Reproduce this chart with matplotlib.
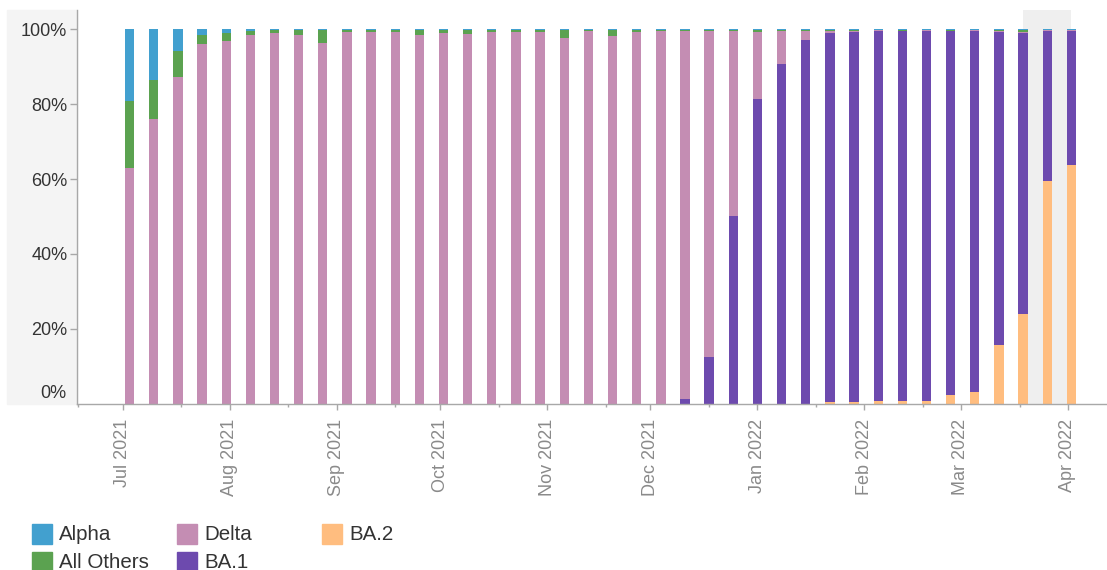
import matplotlib
matplotlib.use('Agg')
import pandas as pd
import matplotlib.pyplot as plt
import matplotlib.dates as mdates
from matplotlib.patches import Rectangle

plt.rcParams['font.family'] = ['Liberation Sans', 'DejaVu Sans']

W, H = 1107, 570

# week ending dates (Saturdays), one bar per week
weeks = pd.date_range('2021-07-03', periods=40, freq='7D')

# shares in percent (bottom to top of each bar)
ba2 = [0, 0, 0, 0, 0, 0, 0, 0, 0, 0,
       0, 0, 0, 0, 0, 0, 0, 0, 0, 0,
       0, 0, 0, 0, 0, 0, 0, 0, 0, 0.4,
       0.4, 0.8, 0.8, 0.8, 2.2, 3.0, 15.7, 23.9, 59.5, 63.7]
ba1 = [0, 0, 0, 0, 0, 0, 0, 0, 0, 0,
       0, 0, 0, 0, 0, 0, 0, 0, 0, 0,
       0, 0, 0, 1.1, 12.4, 50.2, 81.4, 90.8, 97.1, 98.7,
       98.9, 98.9, 98.7, 98.9, 97.3, 96.7, 83.6, 75.1, 40.2, 36.0]
delta = [63.0, 76.0, 87.2, 96.0, 97.0, 98.6, 99.0, 98.6, 96.3, 99.3,
         99.4, 99.3, 98.6, 99.0, 98.9, 99.3, 99.3, 99.3, 97.8, 99.7,
         98.2, 99.3, 99.7, 98.6, 87.1, 49.5, 17.9, 8.9, 2.6, 0.6,
         0.4, 0.1, 0.2, 0.1, 0.2, 0.1, 0.3, 0.2, 0.1, 0.1]
others = [18.0, 10.4, 7.0, 2.5, 2.0, 1.1, 0.8, 1.2, 3.5, 0.5,
          0.4, 0.5, 1.2, 0.8, 0.9, 0.5, 0.5, 0.5, 2.0, 0.1,
          1.6, 0.5, 0.1, 0.1, 0.3, 0.1, 0.5, 0.1, 0.1, 0.1,
          0.1, 0.0, 0.1, 0.0, 0.1, 0.0, 0.2, 0.6, 0.0, 0.0]
alpha = [19.0, 13.6, 5.8, 1.5, 1.0, 0.3, 0.2, 0.2, 0.2, 0.2,
         0.2, 0.2, 0.2, 0.2, 0.2, 0.2, 0.2, 0.2, 0.2, 0.2,
         0.2, 0.2, 0.2, 0.2, 0.2, 0.2, 0.2, 0.2, 0.2, 0.2,
         0.2, 0.2, 0.2, 0.2, 0.2, 0.2, 0.2, 0.2, 0.2, 0.2]

series = [('BA.2', ba2, '#ffbd7f'),
          ('BA.1', ba1, '#6d4aae'),
          ('Delta', delta, '#c48db3'),
          ('All Others', others, '#5ba250'),
          ('Alpha', alpha, '#42a0cf')]
legend_order = ['Alpha', 'All Others', 'Delta', 'BA.1', 'BA.2']

nowcast_start = pd.Timestamp('2022-03-19')
nowcast_end = pd.Timestamp('2022-04-02')

y_ticks = [20, 40, 60, 80, 100]
month_ticks = pd.date_range('2021-07-01', '2022-04-01', freq='MS')
mid_ticks = [pd.Timestamp('2021-06-18')] + [m + pd.Timedelta(days=17) for m in month_ticks[:-1]]

fig = plt.figure(figsize=(W / 100, H / 100), dpi=100)

# light grey band behind the y labels
fig.add_artist(Rectangle((7 / W, 1 - 403.5 / H), 70 / W, 393.5 / H,
                         transform=fig.transFigure, color='#f4f4f4', zorder=0))

ax = fig.add_axes([77 / W, 1 - 403.5 / H, 1030 / W, 393.5 / H])
ax.patch.set_alpha(0)

ax.axvspan(mdates.date2num(nowcast_start), mdates.date2num(nowcast_end),
           color='#efefef', zorder=0, lw=0)

x = mdates.date2num(weeks)
bottom = [0.0] * len(x)
for name, vals, col in series:
    ax.bar(x, vals, width=2.7, bottom=bottom, color=col, lw=0, zorder=2)
    bottom = [b + v for b, v in zip(bottom, vals)]

ax.set_ylim(0, 105.2)
ax.set_xlim(mdates.date2num(pd.Timestamp('2021-06-17 18:00')),
            mdates.date2num(pd.Timestamp('2022-04-12 08:00')))

for s in ['top', 'right']:
    ax.spines[s].set_visible(False)
for s in ['left', 'bottom']:
    ax.spines[s].set_color('#a8a8a8')
    ax.spines[s].set_linewidth(1)

ax.set_yticks(y_ticks)
ax.set_yticklabels([f'{v}%' for v in y_ticks])
ax.tick_params(axis='y', length=5, width=1, color='#a8a8a8', pad=2,
               labelsize=13, labelcolor='#333333')
ax.annotate('0%', xy=(0, 0), xycoords=('axes fraction', 'data'),
            xytext=(-7.5, 7.5), textcoords='offset points',
            ha='right', va='center', fontsize=13, color='#333333')

ax.set_xticks(mdates.date2num(month_ticks))
ax.set_xticklabels([d.strftime('%b %Y') for d in month_ticks], rotation=90)
ax.set_xticks(mdates.date2num(mid_ticks), minor=True)
ax.tick_params(axis='x', which='major', length=4, width=1, color='#a8a8a8',
               pad=7, labelsize=13, labelcolor='#8a8a8a')
ax.tick_params(axis='x', which='minor', length=2.2, width=1, color='#a8a8a8')

# legend: three columns, filled top to bottom
colors = {name: col for name, _, col in series}
for i, name in enumerate(legend_order):
    col, row = i // 2, i % 2
    lx = 32 + 145 * col
    ly = 523.5 + 28.3 * row
    fig.add_artist(Rectangle((lx / W, 1 - (ly + 20) / H), 20 / W, 20 / H,
                             transform=fig.transFigure, color=colors[name]))
    fig.text((lx + 27) / W, 1 - (ly + 10.5) / H, name, fontsize=14.8,
             color='#333333', ha='left', va='center')

fig.savefig('out.png', dpi=100)
